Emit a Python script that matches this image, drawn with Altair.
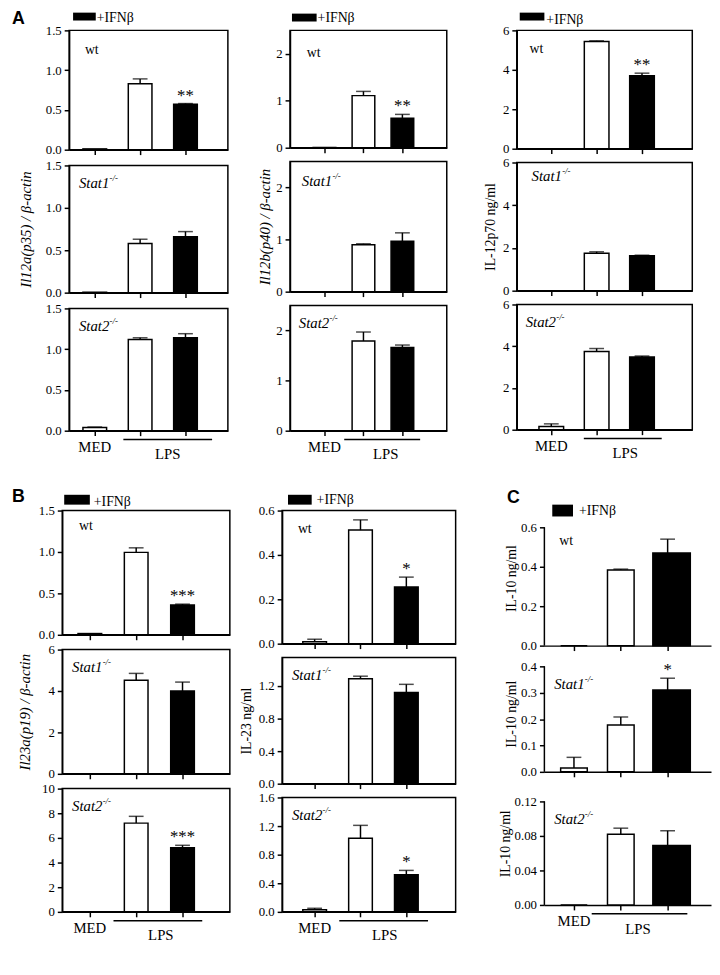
import altair as alt
import pandas as pd

categories = ["MED", "LPS", "LPS+IFNβ"]
genotypes = ["wt", "Stat1", "Stat2"]

# Il12a(p35) / β-actin
il12a_wt = [0.01, 0.83, 0.57]
il12a_wt_err = [0.0, 0.06, 0.01]
il12a_wt_sig = ["", "", "**"]
il12a_stat1 = [0.005, 0.58, 0.66]
il12a_stat1_err = [0.0, 0.05, 0.06]
il12a_stat2 = [0.04, 1.12, 1.14]
il12a_stat2_err = [0.005, 0.02, 0.05]
# Il12b(p40) / β-actin
il12b_wt = [0.005, 1.11, 0.63]
il12b_wt_err = [0.0, 0.09, 0.08]
il12b_wt_sig = ["", "", "**"]
il12b_stat1 = [0.0, 0.90, 0.97]
il12b_stat1_err = [0.0, 0.02, 0.16]
il12b_stat2 = [0.0, 1.79, 1.66]
il12b_stat2_err = [0.0, 0.18, 0.05]
# IL-12p70 ng/ml
il12p70_wt = [0.0, 5.44, 3.70]
il12p70_wt_err = [0.0, 0.03, 0.13]
il12p70_wt_sig = ["", "", "**"]
il12p70_stat1 = [0.0, 1.75, 1.64]
il12p70_stat1_err = [0.0, 0.07, 0.02]
il12p70_stat2 = [0.15, 3.75, 3.48]
il12p70_stat2_err = [0.13, 0.14, 0.05]
# Il23a(p19) / β-actin
il23a_wt = [0.015, 0.995, 0.36]
il23a_wt_err = [0.0, 0.055, 0.01]
il23a_wt_sig = ["", "", "***"]
il23a_stat1 = [0.0, 4.52, 4.0]
il23a_stat1_err = [0.0, 0.33, 0.43]
il23a_stat2 = [0.0, 7.2, 5.2]
il23a_stat2_err = [0.0, 0.55, 0.2]
il23a_stat2_sig = ["", "", "***"]
# IL-23 ng/ml
il23_wt = [0.009, 0.512, 0.255]
il23_wt_err = [0.011, 0.046, 0.045]
il23_wt_sig = ["", "", "*"]
il23_stat1 = [0.0, 1.29, 1.12]
il23_stat1_err = [0.0, 0.03, 0.10]
il23_stat2 = [0.03, 1.03, 0.52]
il23_stat2_err = [0.02, 0.18, 0.06]
il23_stat2_sig = ["", "", "*"]
# IL-10 ng/ml
il10_wt = [0.0, 0.383, 0.47]
il10_wt_err = [0.0, 0.005, 0.07]
il10_stat1 = [0.015, 0.178, 0.31]
il10_stat1_err = [0.04, 0.03, 0.045]
il10_stat1_sig = ["", "", "*"]
il10_stat2 = [0.0, 0.082, 0.069]
il10_stat2_err = [0.0, 0.007, 0.017]

NOSIG = ["", "", ""]
SERIF = "Liberation Serif"
SANS = "Liberation Sans"
one = pd.DataFrame({"k": [0]})


def band_scale(col):
    w, c1, step, bw = col["w"], col["c1"], col["step"], col["bw"]
    pi = 1 - bw / step
    po = (w / step - 3 + pi) / 2
    al = (c1 - bw / 2) / (w - step * (3 - pi))
    return alt.Scale(domain=categories, paddingInner=pi, paddingOuter=po, align=al)


def txt(text, x, y, size=14, align="left", baseline="middle", **kw):
    return alt.Chart(one).mark_text(text=text, align=align, baseline=baseline,
                                    fontSize=size, **kw).encode(
        x=alt.value(x), y=alt.value(y))


def panel(vals, errs, sigs, ymax, yticks, fmt, geno, col, h, vt=0, ytitle=None,
          italic=True, bottom=False, legend=None, letter=None, boxed=True,
          gpos=(10, 18), black_w=None):
    df = pd.DataFrame({"cat": categories, "v": vals, "e": errs, "s": sigs})
    w = col["w"]
    top = ymax * h / (h - vt) if vt else ymax
    yscale = alt.Scale(domain=[0, top], nice=False, zero=True)
    yax = dict(values=yticks, format=fmt, tickSize=5, labelPadding=3,
               domain=boxed, grid=False)
    if ytitle:
        yax.update(title=ytitle, titlePadding=col["tp"],
                   titleFontStyle="italic" if italic else "normal",
                   titleFontSize=15 if italic else 14)
    else:
        yax["title"] = None
    yaxis = alt.Axis(**yax)
    xax = dict(title=None, tickSize=5, grid=False, domain=True)
    if bottom:
        xax.update(labels=True, labelExpr="datum.value == 'MED' ? 'MED' : ''",
                   labelAngle=0, labelFontSize=15, labelPadding=4)
    else:
        xax["labels"] = False
    x = alt.X("cat:N", scale=band_scale(col), axis=alt.Axis(**xax))

    def Y(f):
        return alt.Y(f, type="quantitative", scale=yscale, axis=yaxis)

    base = alt.Chart(df)
    layers = []
    if black_w:
        layers.append(base.transform_filter(
            ~alt.FieldEqualPredicate(field="cat", equal=categories[2])).mark_bar(
            stroke="black", strokeWidth=1.5, fill="white").encode(x=x, y=Y("v")))
        layers.append(base.transform_filter(
            alt.FieldEqualPredicate(field="cat", equal=categories[2])).mark_bar(
            stroke="black", strokeWidth=1.5, fill="black", width=black_w,
            xOffset=col.get("bx", 0)).encode(x=x, y=Y("v")))
    else:
        layers.append(base.mark_bar(stroke="black", strokeWidth=1.5).encode(
            x=x, y=Y("v"),
            fill=alt.Fill("cat:N", scale=alt.Scale(domain=categories,
                                                   range=["white", "white", "black"]),
                          legend=None)))
    err = base.transform_filter("datum.e > 0").transform_calculate(top="datum.v + datum.e")
    layers.append(err.mark_rule(color="black", strokeWidth=1.5).encode(
        x=x, y=Y("v"), y2="top:Q"))
    layers.append(err.mark_tick(color="black", thickness=1.5, size=col["cap"]).encode(
        x=x, y=Y("top")))
    st = base.transform_filter("datum.s != ''").transform_calculate(top="datum.v + datum.e")
    layers.append(st.mark_text(baseline="alphabetic", dy=-3, fontSize=17).encode(
        x=x, y=Y("top"), text="s:N"))
    # genotype label
    gx, gy = gpos
    if geno == "wt":
        layers.append(txt("wt", gx, gy + vt, size=14))
    else:
        layers.append(txt(geno, gx, gy + vt, size=15, fontStyle="italic"))
        layers.append(txt("-/-", gx + 31, gy + vt - 5, size=9, fontStyle="italic"))
    if not boxed:
        layers.append(alt.Chart(one).mark_rule(color="black", strokeWidth=1.5).encode(
            x=alt.value(0), y=alt.value(vt), y2=alt.value(h)))
    if legend:
        rx, ry, tx, ty = legend
        layers.append(alt.Chart(one).mark_rect(color="black").encode(
            x=alt.value(rx[0]), x2=alt.value(rx[1]), y=alt.value(ry[0]), y2=alt.value(ry[1])))
        layers.append(txt("+IFNβ", tx, ty, size=14))
    if letter:
        lt, lx, ly = letter
        layers.append(txt(lt, lx, ly, size=18, baseline="alphabetic",
                          font=SANS, fontWeight="bold"))
    if bottom:
        l0, l1 = col["line"]
        layers.append(alt.Chart(one).mark_rule(color="black", strokeWidth=1.5).encode(
            x=alt.value(l0), x2=alt.value(l1), y=alt.value(h + 9)))
        layers.append(txt("LPS", col["lps"], h + 17, size=15, align="center", baseline="top"))
    ch = alt.layer(*layers).properties(width=w, height=h)
    if not boxed:
        ch = ch.properties(view=alt.ViewBackground(stroke="transparent"))
    return ch


A1 = dict(w=161, c1=26, step=46, bw=24, cap=15, tp=12, line=(55, 145), lps=100)
A2 = dict(w=159, c1=35, step=39.5, bw=23, cap=15, tp=3, line=(55, 132), lps=97)
A3 = dict(w=178, c1=35, step=46, bw=25, cap=15, tp=5, line=(68, 147), lps=110)
B1 = dict(w=170, c1=28, step=47, bw=24, cap=15, tp=16, line=(52, 142), lps=100)
B2 = dict(w=176, c1=33, step=46.5, bw=24, cap=15, tp=5, line=(58, 148), lps=104)
CC = dict(w=169, c1=30, step=47.5, bw=27, cap=15, tp=2, line=(48, 145), lps=95, bx=4)

t15 = [0, 0.5, 1.0, 1.5]
colA1 = alt.vconcat(
    panel(il12a_wt, il12a_wt_err, il12a_wt_sig, 1.5, t15, ".1f", genotypes[0], A1, 121,
          gpos=(16, 20), legend=((4, 27), (-18, -10), 28, -13), letter=("A", -58, -6)),
    panel(il12a_stat1, il12a_stat1_err, NOSIG, 1.5, t15, ".1f", genotypes[1], A1, 129,
          ytitle="Il12a(p35) / β-actin", gpos=(10, 18)),
    panel(il12a_stat2, il12a_stat2_err, NOSIG, 1.5, t15, ".1f", genotypes[2], A1, 124,
          gpos=(10, 18), bottom=True),
    spacing=16, bounds="flush")

t2 = [0, 1, 2]
colA2 = alt.vconcat(
    panel(il12b_wt, il12b_wt_err, il12b_wt_sig, 2.5, t2, "d", genotypes[0], A2, 119,
          gpos=(17, 23), legend=((2, 27), (-17, -9), 28, -12)),
    panel(il12b_stat1, il12b_stat1_err, NOSIG, 2.5, t2, "d", genotypes[1], A2, 132,
          ytitle="Il12b(p40) / β-actin", gpos=(12, 20)),
    panel(il12b_stat2, il12b_stat2_err, NOSIG, 2.5, t2, "d", genotypes[2], A2, 127,
          gpos=(9, 18), bottom=True),
    spacing=14, bounds="flush")

t6 = [0, 2, 4, 6]
colA3 = alt.vconcat(
    panel(il12p70_wt, il12p70_wt_err, il12p70_wt_sig, 6, t6, "d", genotypes[0], A3, 120,
          gpos=(13, 19), legend=((3, 28), (-18, -10), 30, -10)),
    panel(il12p70_stat1, il12p70_stat1_err, NOSIG, 6, t6, "d", genotypes[1], A3, 130,
          ytitle="IL-12p70 ng/ml", italic=False, gpos=(15, 14)),
    panel(il12p70_stat2, il12p70_stat2_err, NOSIG, 6, t6, "d", genotypes[2], A3, 127,
          gpos=(9, 18), bottom=True),
    spacing=14, bounds="flush")

colB1 = alt.vconcat(
    panel(il23a_wt, il23a_wt_err, il23a_wt_sig, 1.5, t15, ".1f", genotypes[0], B1, 126,
          gpos=(17, 16), legend=((2, 28), (-16, -6), 32, -9), letter=("B", -51, -9)),
    panel(il23a_stat1, il23a_stat1_err, NOSIG, 6, t6, "d", genotypes[1], B1, 126,
          ytitle="Il23a(p19) / β-actin", gpos=(10, 18)),
    panel(il23a_stat2, il23a_stat2_err, il23a_stat2_sig, 10, [0, 2, 4, 6, 8, 10], "d",
          genotypes[2], B1, 125, gpos=(10, 18), bottom=True),
    spacing=15, bounds="flush")

colB2 = alt.vconcat(
    panel(il23_wt, il23_wt_err, il23_wt_sig, 0.6, [0, 0.2, 0.4, 0.6], ".1f", genotypes[0],
          B2, 135, gpos=(16, 19), legend=((6, 30), (-16, -6), 35, -11)),
    panel(il23_stat1, il23_stat1_err, NOSIG, 1.55, [0, 0.4, 0.8, 1.2], ".1f", genotypes[1],
          B2, 128, ytitle="IL-23 ng/ml", italic=False, gpos=(10, 18)),
    panel(il23_stat2, il23_stat2_err, il23_stat2_sig, 1.6, [0, 0.4, 0.8, 1.2, 1.6], ".1f",
          genotypes[2], B2, 116, gpos=(10, 18), bottom=True),
    spacing=14, bounds="flush")

colC = alt.vconcat(
    panel(il10_wt, il10_wt_err, NOSIG, 0.6, [0, 0.2, 0.4, 0.6], ".1f", genotypes[0], CC,
          137, vt=17, ytitle="IL-10 ng/ml", italic=False, gpos=(15, 14), boxed=False,
          black_w=38, legend=((8, 29), (-6, 6), 35, 1), letter=("C", -38, -8)),
    panel(il10_stat1, il10_stat1_err, il10_stat1_sig, 0.4, [0, 0.1, 0.2, 0.3, 0.4], ".1f",
          genotypes[1], CC, 118, vt=11, ytitle="IL-10 ng/ml", italic=False, gpos=(10, 18),
          boxed=False, black_w=38),
    panel(il10_stat2, il10_stat2_err, NOSIG, 0.12, [0, 0.04, 0.08, 0.12], ".2f",
          genotypes[2], CC, 125, vt=20, ytitle="IL-10 ng/ml", italic=False, gpos=(10, 18),
          boxed=False, black_w=38, bottom=True),
    spacing=10, bounds="flush")


def spacer():
    return alt.Chart(one).mark_rule(opacity=0).encode(
        x=alt.value(0), y=alt.value(0), y2=alt.value(1)).properties(
        width=1, height=1, view=alt.ViewBackground(stroke="transparent"))


secA = alt.hconcat(spacer(), alt.hconcat(alt.hconcat(colA1, colA2, spacing=28), colA3,
                                         spacing=35), spacing=0)
secB = alt.hconcat(spacer(), alt.hconcat(alt.hconcat(colB1, colB2, spacing=8), colC,
                                         spacing=41), spacing=0)

chart = alt.vconcat(secA, secB, spacing=24).properties(
    padding={"left": 0, "top": -5, "right": 0, "bottom": 0}
).configure_view(
    stroke="black", strokeWidth=1.5
).configure_axis(
    labelFont=SERIF, labelFontSize=13, labelColor="black", tickColor="black",
    domainColor="black", tickWidth=1.5, domainWidth=1.5, titleFont=SERIF,
    titleFontSize=13, titleColor="black", titleFontWeight="normal"
).configure_text(font=SERIF, color="black")

chart.save("out.html", embed_options={"renderer": "svg", "actions": False})
